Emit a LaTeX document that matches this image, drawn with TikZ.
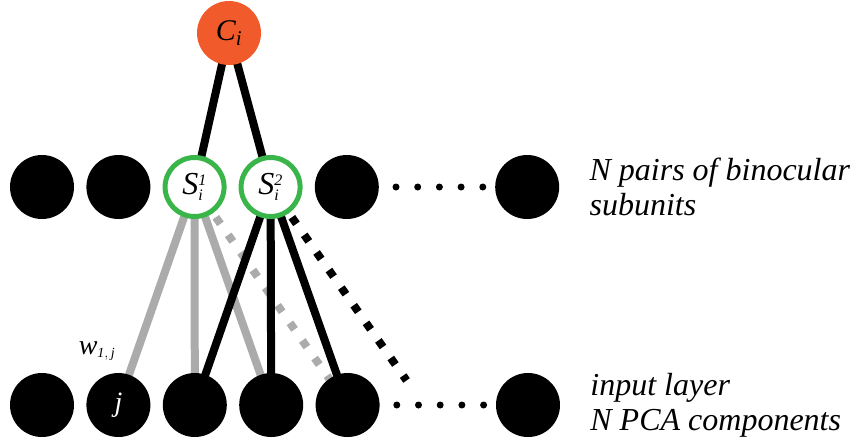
\documentclass[tikz,border=0pt]{standalone}
\usepackage{fontspec}
\setmainfont{Liberation Serif}
\usetikzlibrary{positioning,backgrounds}
\definecolor{cellorange}{HTML}{F15A2B}
\definecolor{subgreen}{HTML}{3AB54A}
\definecolor{wgray}{HTML}{ABABAB}
\tikzset{
  unit/.style={circle, fill=black, minimum size=64pt, inner sep=0pt},
  subunit/.style={circle, draw=subgreen, line width=5pt, fill=white, minimum size=59pt, inner sep=0pt, font=\fontsize{32}{32}\selectfont},
  cell/.style={circle, fill=cellorange, minimum size=64pt, inner sep=0pt, font=\fontsize{30}{30}\selectfont},
  wire/.style={line width=8pt},
  dotwire/.style={line width=8pt, dash pattern=on 8pt off 13.5pt, shorten <=5pt},
  note/.style={font=\fontsize{32}{35}\selectfont\itshape, align=left, inner sep=0pt},
  wlabel/.style={font=\fontsize{28}{28}\selectfont, inner sep=0pt}
}

\begin{document}
\begin{tikzpicture}[x=1pt, y=-1pt, node distance=12pt]
\useasboundingbox (0,0) rectangle (863,445);

% middle row: binocular subunits
\node[unit] (m1) at (42,187) {};
\node[unit, right=of m1] (m2) {};
\node[subunit, right=of m2] (s1) {$\mathit{S}_{\scriptscriptstyle\mathit{i}}^{\scriptscriptstyle\mathit{1}}$};
\node[subunit, right=of s1] (s2) {$\mathit{S}_{\scriptscriptstyle\mathit{i}}^{\scriptscriptstyle\mathit{2}}$};
\node[unit, right=of s2] (m5) {};
\node[unit, right=116pt of m5] (m6) {};

% complex cell
\node[cell] (c) at (229,33) {$\mathit{C}_{\scriptstyle\mathit{i}}$};

% input layer
\node[unit] (i1) at (42,405) {};
\node[unit, right=of i1, text=white, font=\fontsize{28}{28}\selectfont] (i2) {$\mathit{j}$};
\node[unit, right=of i2] (i3) {};
\node[unit, right=of i3] (i4) {};
\node[unit, right=of i4] (i5) {};
\node[unit, right=116pt of i5] (i6) {};
\coordinate[right=44pt of i5] (i7);

% ellipses
\foreach \k in {0,...,4} {
  \fill ([xshift=17pt+\k*21.7pt]m5.east) circle (3.5pt);
  \fill ([xshift=17pt+\k*21.7pt]i5.east) circle (3.5pt);
}

\node[wlabel] (w) at (97,351) {$\mathit{w}_{\scriptscriptstyle\mathit{1,\,j}}$};

% texts
\node[note, right=30pt of m6] (t1) {N pairs of binocular\\subunits};
\node[note, right=30pt of i6] (t2) {input layer\\N PCA components};

\begin{scope}[on background layer]
\draw[wire, wgray] (s1.center) -- (i2.center);
\draw[wire, wgray] (s1.center) -- (i3.center);
\draw[wire, wgray] (s1.center) -- (i4.center);
\draw[dotwire, wgray] (s1) -- (i5);
\draw[wire] (c.center) -- (s1.center);
\draw[wire] (c.center) -- (s2.center);
\draw[wire] (s2.center) -- (i3.center);
\draw[wire] (s2.center) -- (i4.center);
\draw[wire] (s2.center) -- (i5.center);
\draw[dotwire, shorten >=30pt] (s2) -- (i7);
\end{scope}
\end{tikzpicture}
\end{document}
